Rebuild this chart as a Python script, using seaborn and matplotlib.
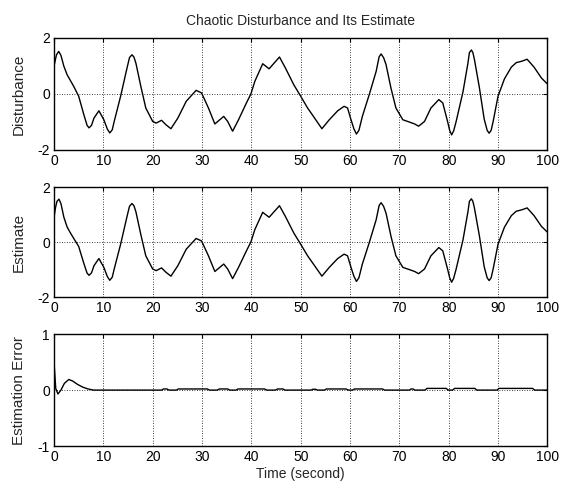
import numpy as np
import pandas as pd
import matplotlib
matplotlib.use("Agg")
import matplotlib.pyplot as plt
import seaborn as sns

# disturbance
dist_time = [0, 0.5, 0.95, 1.4, 2.0, 2.65, 4.0, 5.0, 6.05, 6.7, 7.1, 7.6, 8.1, 9.1, 10.1, 10.8,
             11.3, 11.8, 12.2, 13.5, 14.8, 15.3, 15.8, 16.2, 16.6, 17.6, 18.6, 20.0, 20.7, 21.8,
             22.7, 23.7, 25.1, 26.8, 28.8, 29.9, 31.3, 32.6, 34.4, 35.2, 36.2, 37.4, 39.0, 39.9,
             40.7, 42.3, 43.6, 44.6, 45.7, 46.9, 48.6, 50.0, 51.4, 52.7, 54.3, 55.8, 57.5, 58.8,
             59.5, 60.2, 60.8, 61.3, 61.8, 62.5, 63.9, 65.3, 65.9, 66.3, 66.8, 67.3, 68.3, 69.3,
             70.7, 72.0, 73.1, 73.9, 75.1, 76.4, 78.0, 78.8, 79.8, 80.2, 80.6, 81.0, 81.5, 82.9,
             83.9, 84.2, 84.6, 84.9, 85.2, 86.2, 87.2, 87.8, 88.2, 88.6, 89.0, 90.0, 91.3, 92.7,
             93.7, 94.8, 95.9, 97.3, 98.8, 100]
dist_value = [1.0, 1.4, 1.52, 1.38, 0.99, 0.69, 0.27, -0.08, -0.74, -1.12, -1.21, -1.12, -0.86,
              -0.6, -0.92, -1.25, -1.39, -1.28, -0.98, -0.08, 0.93, 1.3, 1.4, 1.32, 1.1, 0.27,
              -0.5, -0.98, -1.04, -0.94, -1.1, -1.24, -0.86, -0.26, 0.13, 0.04, -0.5, -1.07,
              -0.8, -0.98, -1.33, -0.92, -0.32, 0.0, 0.45, 1.08, 0.9, 1.1, 1.32, 0.93, 0.33,
              -0.08, -0.5, -0.83, -1.24, -0.92, -0.6, -0.44, -0.5, -0.92, -1.25, -1.43, -1.3,
              -0.8, -0.02, 0.81, 1.33, 1.43, 1.3, 1.05, 0.21, -0.5, -0.92, -1.0, -1.07, -1.15,
              -0.98, -0.5, -0.2, -0.32, -1.0, -1.3, -1.46, -1.32, -0.99, 0.08, 1.1, 1.48, 1.57,
              1.48, 1.25, 0.25, -0.9, -1.3, -1.4, -1.3, -0.99, -0.08, 0.54, 0.96, 1.12, 1.17,
              1.24, 0.96, 0.57, 0.36]

# estimate
est_time = [0, 0.05, 0.3, 0.6, 1.0, 1.4, 2.0, 2.65, 3.2, 4.0, 5.0, 6.05, 6.7, 7.1, 7.6, 8.1,
            9.1, 10.1, 10.8, 11.3, 11.8, 12.2, 13.5, 14.8, 15.3, 15.8, 16.2, 16.6, 17.6, 18.6,
            20.0, 20.7, 21.8, 22.7, 23.7, 25.1, 26.8, 28.8, 29.9, 31.3, 32.6, 34.4, 35.2, 36.2,
            37.4, 39.0, 39.9, 40.7, 42.3, 43.6, 44.6, 45.7, 46.9, 48.6, 50.0, 51.4, 52.7, 54.3,
            55.8, 57.5, 58.8, 59.5, 60.2, 60.8, 61.3, 61.8, 62.5, 63.9, 65.3, 65.9, 66.3, 66.8,
            67.3, 68.3, 69.3, 70.7, 72.0, 73.1, 73.9, 75.1, 76.4, 78.0, 78.8, 79.8, 80.2, 80.6,
            81.0, 81.5, 82.9, 83.9, 84.2, 84.6, 84.9, 85.2, 86.2, 87.2, 87.8, 88.2, 88.6, 89.0,
            90.0, 91.3, 92.7, 93.7, 94.8, 95.9, 97.3, 98.8, 100]
est_value = [0.5, 0.95, 1.25, 1.48, 1.56, 1.4, 0.9, 0.55, 0.37, 0.13, -0.16, -0.78, -1.13,
             -1.21, -1.12, -0.86, -0.6, -0.92, -1.25, -1.39, -1.28, -0.98, -0.08, 0.93, 1.3,
             1.4, 1.32, 1.1, 0.27, -0.5, -0.98, -1.04, -0.94, -1.1, -1.24, -0.86, -0.26, 0.13,
             0.04, -0.5, -1.07, -0.8, -0.98, -1.33, -0.92, -0.32, 0.0, 0.45, 1.08, 0.9, 1.1,
             1.32, 0.93, 0.33, -0.08, -0.5, -0.83, -1.24, -0.92, -0.6, -0.44, -0.5, -0.92,
             -1.25, -1.43, -1.3, -0.8, -0.02, 0.81, 1.33, 1.43, 1.3, 1.05, 0.21, -0.5, -0.92,
             -1.0, -1.07, -1.15, -0.98, -0.5, -0.2, -0.32, -1.0, -1.3, -1.46, -1.32, -0.99, 0.08,
             1.1, 1.48, 1.57, 1.48, 1.25, 0.25, -0.9, -1.3, -1.4, -1.3, -0.99, -0.08, 0.54,
             0.96, 1.12, 1.17, 1.24, 0.96, 0.57, 0.36]

# estimation error
err_time = [0, 0.35, 0.8, 1.4, 2.1, 3.0, 3.8, 4.8, 5.9, 6.9, 8.0, 21.8, 22.2, 22.9, 23.3, 24.8,
            25.2, 31.1, 31.5, 33.1, 33.5, 35.2, 35.6, 36.9, 37.3, 42.7, 43.1, 44.9, 45.3, 46.4,
            46.8, 52.1, 52.5, 53.0, 53.4, 54.8, 55.2, 59.2, 59.6, 60.5, 60.9, 66.6, 67.0, 72.0,
            72.4, 72.8, 73.1, 75.2, 75.6, 79.5, 79.9, 80.8, 81.2, 85.3, 85.7, 89.8, 90.2, 97.0,
            97.4, 100]
err_value = [0.5, 0.03, -0.07, 0.0, 0.12, 0.19, 0.16, 0.1, 0.05, 0.02, 0.0, 0.0, 0.02, 0.02,
             0.0, 0.0, 0.02, 0.02, 0.0, 0.0, 0.02, 0.02, 0.0, 0.0, 0.02, 0.02, 0.0, 0.0, 0.02,
             0.02, 0.0, 0.0, 0.015, 0.015, 0.0, 0.0, 0.02, 0.02, 0.0, 0.0, 0.02, 0.02, 0.0, 0.0,
             0.02, 0.02, 0.0, 0.0, 0.03, 0.03, 0.0, 0.0, 0.03, 0.03, 0.0, 0.0, 0.03, 0.03, 0.0,
             0.0]

panels = [
    (dist_time, dist_value, "Disturbance", (-2, 2), [-2, 0, 2]),
    (est_time, est_value, "Estimate", (-2, 2), [-2, 0, 2]),
    (err_time, err_value, "Estimation Error", (-1, 1), [-1, 0, 1]),
]

sns.set_style("white")
plt.rcParams['font.family'] = ['Liberation Sans', 'DejaVu Sans']
plt.rcParams['axes.unicode_minus'] = False

fig = plt.figure(figsize=(5.71, 4.87), dpi=100)

# axes boxes: left, bottom, width, height
boxes = [[0.0946, 0.692, 0.864, 0.230],
         [0.0946, 0.390, 0.864, 0.226],
         [0.0946, 0.084, 0.864, 0.230]]

for box, (t, v, label, ylim, yticks) in zip(boxes, panels):
    ax = fig.add_axes(box)
    df = pd.DataFrame({'t': t, 'v': v})
    sns.lineplot(data=df, x='t', y='v', ax=ax, color='black', linewidth=1.0,
                 estimator=None, sort=False)
    ax.set_xlim(0, 100)
    ax.set_ylim(*ylim)
    ax.set_xticks(np.arange(0, 101, 10))
    ax.set_yticks(yticks)
    ax.grid(True, color='black', linestyle=(0, (1, 2)), linewidth=0.6)
    ax.tick_params(direction='in', labelsize=10, length=3, pad=3, top=True, right=True,
                   colors='black')
    for s in ax.spines.values():
        s.set_color('black')
        s.set_linewidth(1.0)
    ax.set_ylabel(label, fontsize=11, labelpad=8)
    ax.set_xlabel('')

fig.axes[0].set_title('Chaotic Disturbance and Its Estimate', fontsize=10, pad=9)
fig.axes[2].set_xlabel('Time (second)', fontsize=10, labelpad=2)

plt.savefig('out.png', dpi=100)
